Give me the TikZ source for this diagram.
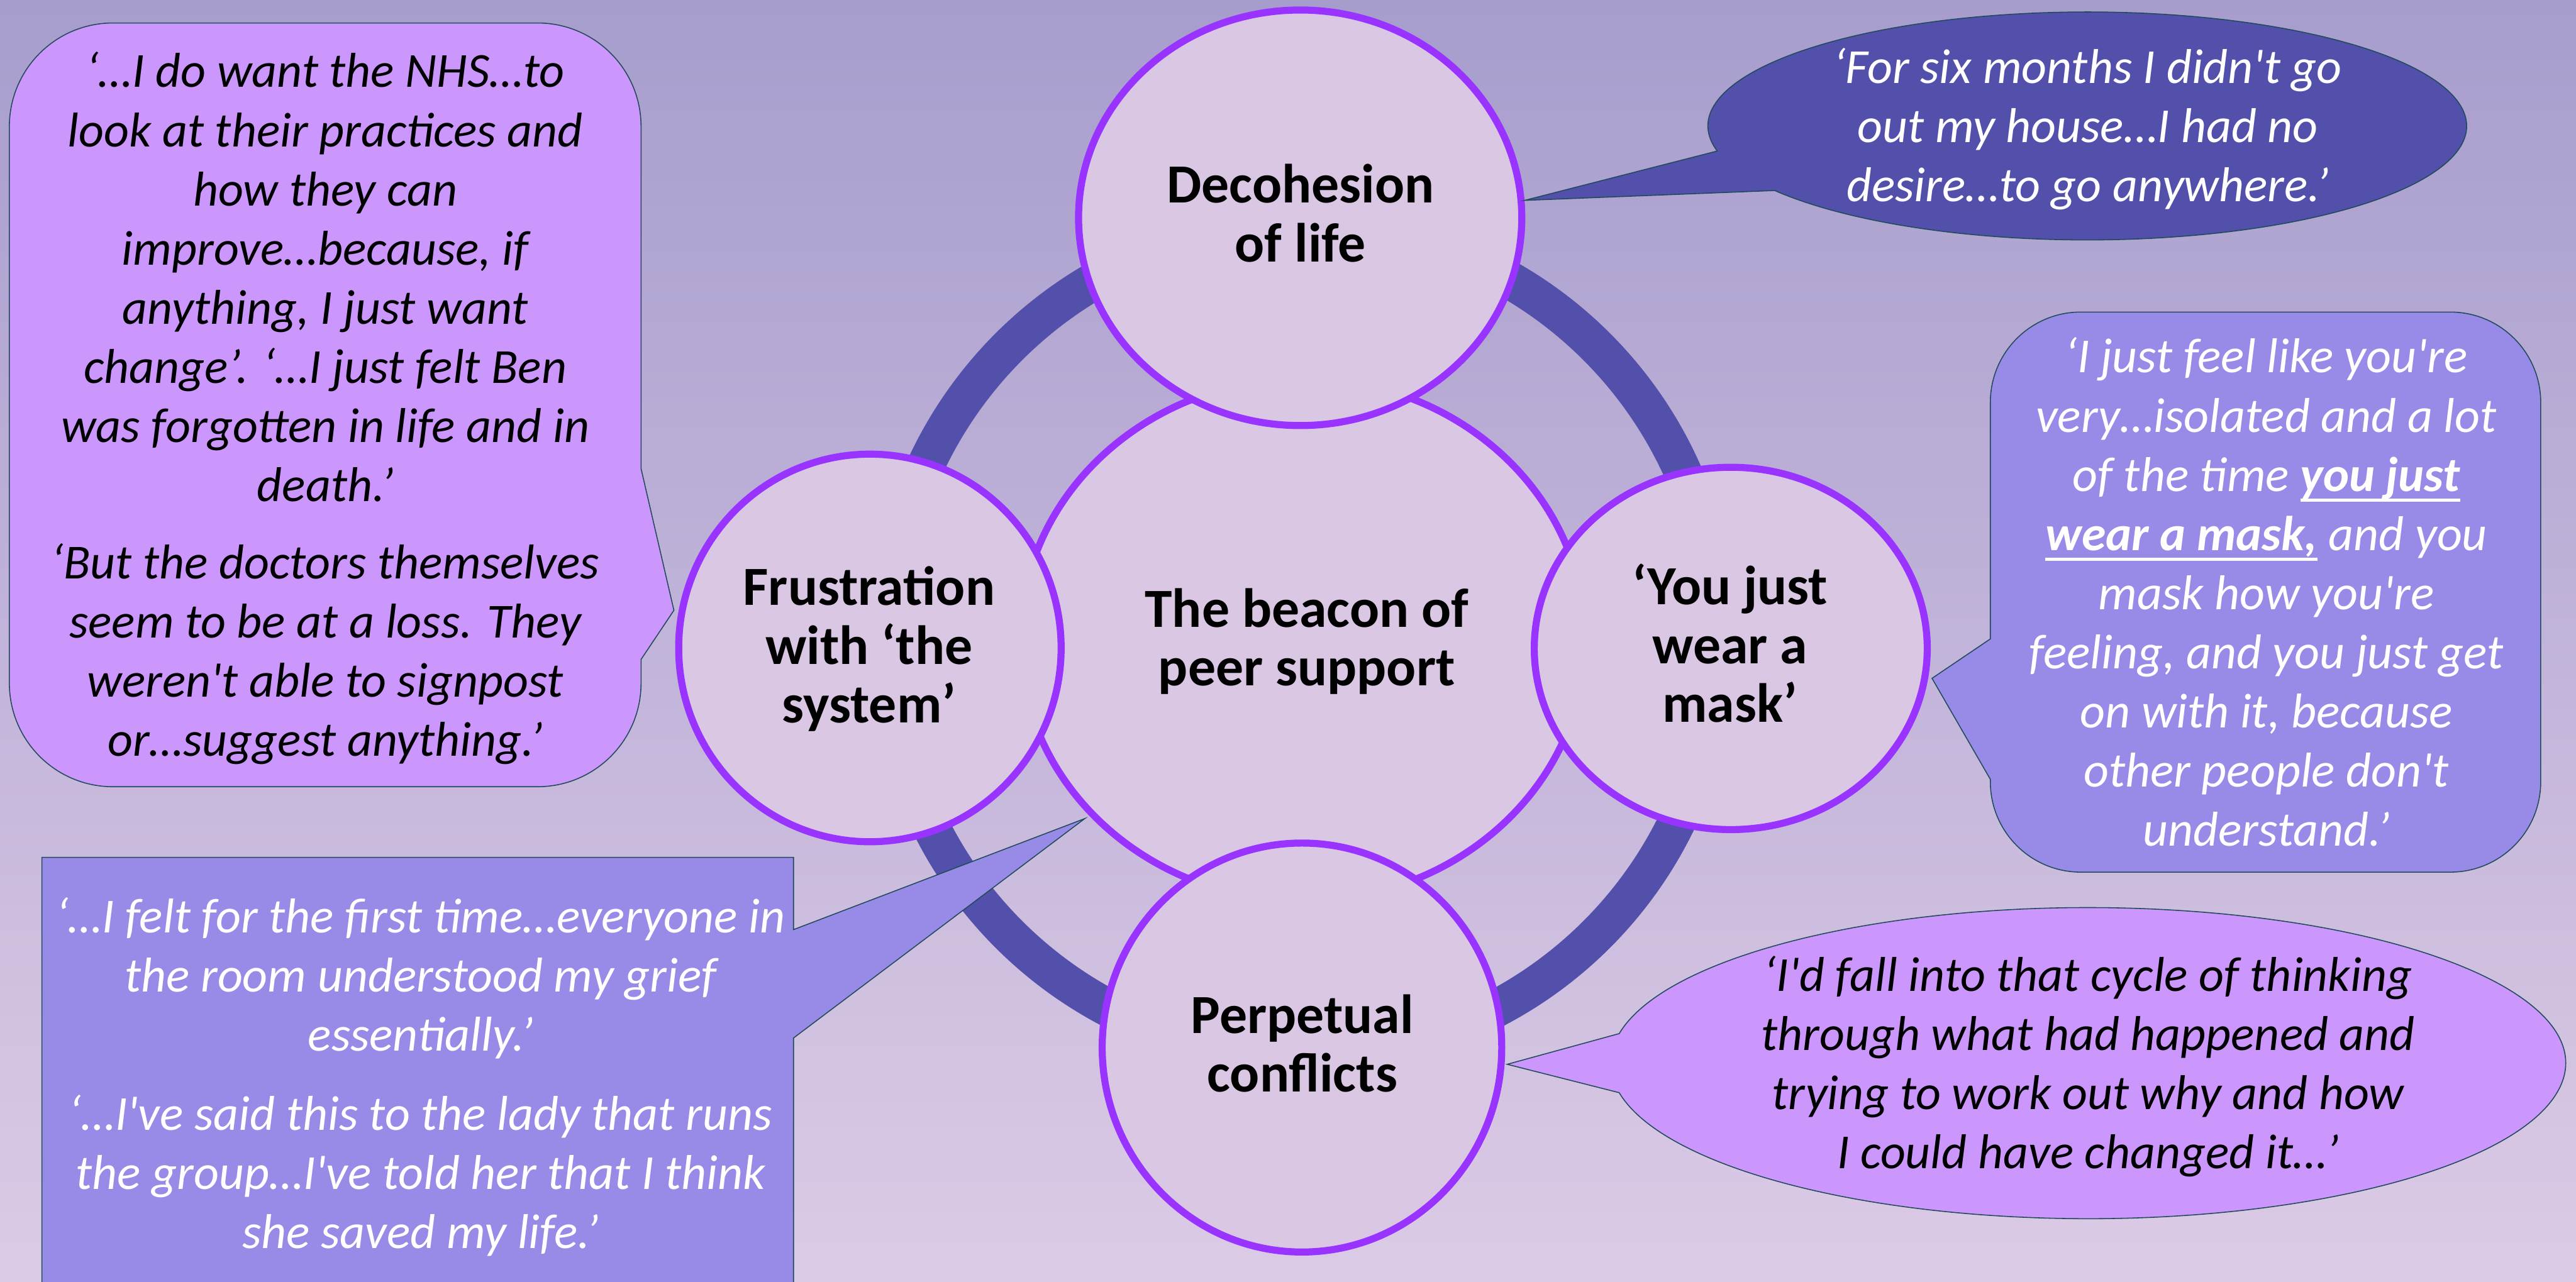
\documentclass[tikz,border=0pt]{standalone}
\usepackage{fontspec}
\setmainfont{Carlito}
\usetikzlibrary{shapes.geometric}
\definecolor{bgtop}{HTML}{A79DCD}
\definecolor{bgbot}{HTML}{DCCBE6}
\definecolor{ringc}{HTML}{5250AA}
\definecolor{circfill}{HTML}{DAC7E4}
\definecolor{circline}{HTML}{9933FF}
\definecolor{lilac}{HTML}{CB97FD}
\definecolor{periw}{HTML}{988BE8}
\definecolor{edgec}{HTML}{214A5A}
\newcommand\lns[1]{\begin{tabular}[t]{@{}c@{}}#1\end{tabular}}
\newcommand\ap{\textquotesingle}
\newsavebox\ulbox
\newcommand\bul[1]{\sbox\ulbox{\textbf{#1}}\rlap{\rule[-6.6pt]{\wd\ulbox}{2pt}}\usebox\ulbox}
\begin{document}
\begin{tikzpicture}[x=1pt,y=-1pt,
  quotetext/.style={inner sep=0pt, anchor=base, font=\fontsize{29.8}{36}\selectfont\itshape},
  themetext/.style={inner sep=0pt, anchor=base, font=\fontsize{33.6}{35.8}\selectfont\bfseries},
  circ/.style={ellipse, draw=circline, fill=circfill, line width=4.3pt, inner sep=0pt},
  bubble/.style={draw=edgec, line width=0.6pt},
]
\useasboundingbox (0,0) rectangle (1568,780.3);
\shade[top color=bgtop, bottom color=bgbot] (0,0) rectangle (1568,780.3);

% ring
\coordinate (hub) at (793,390);
\draw[ringc, line width=23pt] (hub) circle[radius=253];

% circles
\node[circ, minimum width=344pt, minimum height=318pt] (cCore) at (793,389.5) {};
\node[circ, minimum width=269.8pt, minimum height=253pt] (cTop) at (791.4,132.6) {};
\node[circ, minimum width=239.2pt, minimum height=220.6pt] (cRight) at (1053.5,394.8) {};
\node[circ, minimum width=243.2pt, minimum height=249pt] (cBottom) at (792.5,637.8) {};
\node[circ, minimum width=232.8pt, minimum height=236pt] (cLeft) at (529.5,394.5) {};

% circle texts
\node[themetext] (tTop) at (791.6,123.6) {\lns{Decohesion\\of life}};
\node[themetext] (tCore) at (795.4,381.7) {\lns{The beacon of\\peer support}};
\node[themetext] (tLeft) at (529,368.6) {\lns{Frustration\\with ‘the\\system’}};
\node[themetext] (tRight) at (1053,368.2) {\lns{‘You just\\wear a\\mask’}};
\node[themetext] (tBottom) at (792.7,629.1) {\lns{Perpetual\\conflicts}};

% callout A: top-left rounded box
\coordinate (tipA) at (410.2,371.6);
\draw[bubble, fill=lilac] (68.7,14) -- (327.2,14) arc[start angle=-90,end angle=0,radius=63]
  -- (390.2,285.3) -- (tipA) -- (390.2,401.5) -- (390.2,416) arc[start angle=0,end angle=90,radius=63]
  -- (68.7,479) arc[start angle=90,end angle=180,radius=63]
  -- (5.7,77) arc[start angle=180,end angle=270,radius=63] -- cycle;
\node[quotetext] (qA) at (198,53.2) {\lns{‘…I do want the NHS…to\\look at their practices and\\how they can\\improve…because, if\\anything, I just want\\change’. ‘…I just felt Ben\\was forgotten in life and in\\death.’\\[11.2pt]‘But the doctors themselves\\seem to be at a loss. They\\weren\ap t able to signpost\\or…suggest anything.’}};

% callout B: top-right dark ellipse
\coordinate (tipB) at (928,122);
\draw[bubble, fill=ringc] ([shift={(167.3:230.9 and 69.4)}]1270.5,76.7)
  arc[start angle=167.3, end angle=505.5, x radius=230.9, y radius=69.4] -- (tipB) -- cycle;
\node[quotetext, text=white] (qB) at (1270.8,50.7) {\lns{‘For six months I didn\ap t go\\out my house…I had no\\desire…to go anywhere.’}};

% callout C: right rounded box
\coordinate (tipC) at (1176,413);
\draw[bubble, fill=periw] (1266.5,190) -- (1491.5,190) arc[start angle=-90,end angle=0,radius=55]
  -- (1546.5,476) arc[start angle=0,end angle=90,radius=55]
  -- (1266.5,531) arc[start angle=90,end angle=180,radius=55]
  -- (1211.5,474.5) -- (tipC) -- (1211.5,389)
  -- (1211.5,245) arc[start angle=180,end angle=270,radius=55] -- cycle;
\node[quotetext, text=white] (qC) at (1379.5,227) {\lns{‘I just feel like you\ap re\\very…isolated and a lot\\of the time \bul{you just}\\\bul{wear a mask,} and you\\mask how you\ap re\\feeling, and you just get\\on with it, because\\other people don\ap t\\understand.’}};

% callout D: bottom-left box
\coordinate (tipD) at (660.3,498.4);
\draw[bubble, fill=periw] (25.5,800) -- (25.5,522) -- (483,522) -- (483,566) -- (tipD)
  -- (483,632) -- (483,800) -- cycle;
\node[quotetext, text=white] (qD) at (256,568) {\lns{‘…I felt for the first time…everyone in\\the room understood my grief\\essentially.’\\[12pt]‘…I\ap ve said this to the lady that runs\\the group…I\ap ve told her that I think\\she saved my life.’}};

% callout E: bottom-right ellipse
\coordinate (tipE) at (917.4,648);
\draw[bubble, fill=lilac] ([shift={(190.95:290.7 and 94.7)}]1271,647.3)
  arc[start angle=190.95, end angle=529.05, x radius=290.7, y radius=94.7] -- (tipE) -- cycle;
\node[quotetext] (qE) at (1271,603.4) {\lns{‘I\ap d fall into that cycle of thinking\\through what had happened and\\trying to work out why and how\\I could have changed it…’}};
\end{tikzpicture}
\end{document}
